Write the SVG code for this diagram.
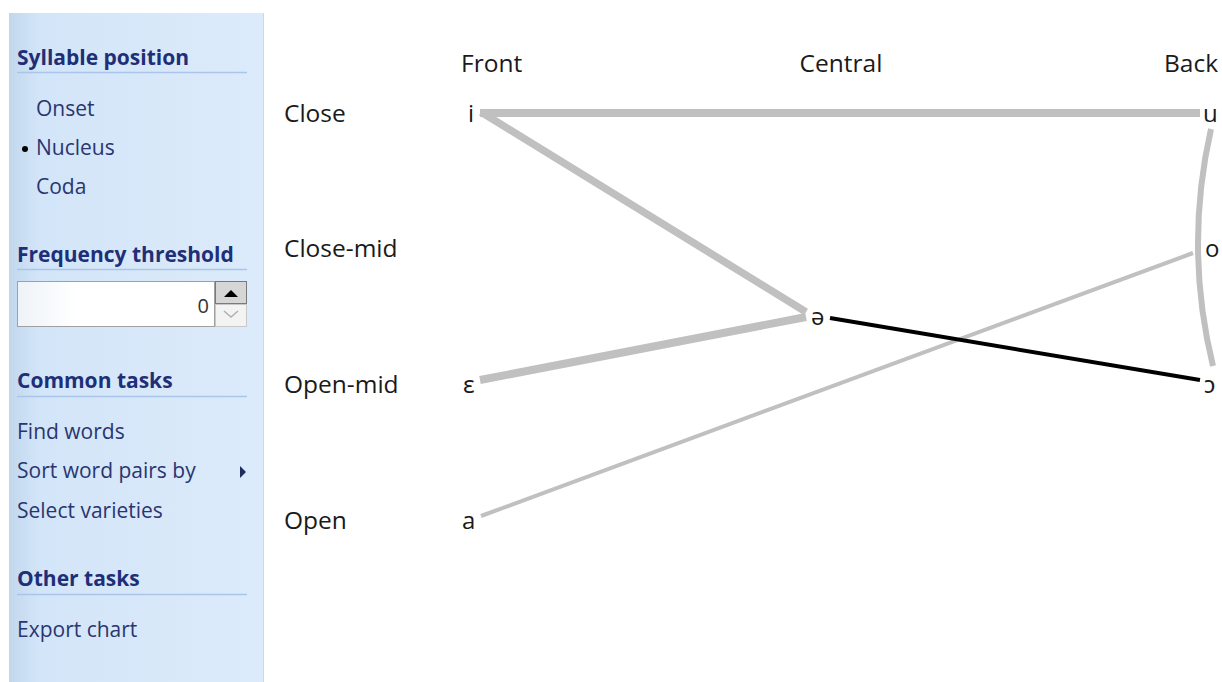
<svg xmlns="http://www.w3.org/2000/svg" width="1222" height="682" viewBox="0 0 1222 682">
<defs>
<linearGradient id="panelGrad" x1="0" y1="0" x2="1" y2="0">
<stop offset="0" stop-color="#c2d7ee"/>
<stop offset="0.12" stop-color="#d3e5f8"/>
<stop offset="1" stop-color="#dcebfb"/>
</linearGradient>
<linearGradient id="boxGrad" x1="0" y1="0" x2="1" y2="0">
<stop offset="0" stop-color="#eef3f8"/>
<stop offset="0.3" stop-color="#ffffff"/>
<stop offset="1" stop-color="#ffffff"/>
</linearGradient>
</defs>
<style>
.hdr{font-family:"Open Sans","Noto Sans",sans-serif;font-weight:bold;font-size:21px;fill:#1e2f78}
.item{font-family:"Open Sans","Noto Sans",sans-serif;font-size:21px;fill:#2a3570}
.rule{stroke:#a9c6ea;stroke-width:1.5}
.axis{font-family:"Open Sans","Noto Sans",sans-serif;font-size:24.5px;fill:#1a1a1a}
.v{font-family:"Open Sans","Noto Sans",sans-serif;font-size:24px;fill:#1a1a1a}
.g{stroke:#c0c0c0;fill:none;stroke-linecap:butt}
</style>
<rect x="0" y="0" width="1222" height="682" fill="#ffffff"/>
<g id="panel">
<rect x="9" y="13" width="254" height="669" fill="url(#panelGrad)"/>
<line x1="263.5" y1="13" x2="263.5" y2="682" stroke="#c4d9f2" stroke-width="1"/>
<text class="hdr" x="17" y="65">Syllable position</text>
<line class="rule" x1="17" y1="72.5" x2="247" y2="72.5"/>
<text class="item" x="36" y="116">Onset</text>
<circle cx="25" cy="149" r="3" fill="#000"/>
<text class="item" x="36" y="155">Nucleus</text>
<text class="item" x="36" y="194">Coda</text>
<text class="hdr" x="17" y="262">Frequency threshold</text>
<line class="rule" x1="17" y1="269.5" x2="247" y2="269.5"/>
<g id="spinner">
<rect x="17.5" y="281.5" width="197" height="45" fill="url(#boxGrad)" stroke="#a0a0a0"/>
<text x="209" y="313" text-anchor="end" font-family="Open Sans, Noto Sans, sans-serif" font-size="20" fill="#333">0</text>
<rect x="215.5" y="281.5" width="31" height="22" fill="#d6d6d6" stroke="#7a7a7a"/>
<path d="M224 297 L231 290 L238 297 Z" fill="#000"/>
<rect x="215.5" y="304.5" width="31" height="22" fill="#f3f3f3" stroke="#c8c8c8"/>
<path d="M224 311 L231 317 L238 311" fill="none" stroke="#b0b0b0" stroke-width="1.5"/>
</g>
<text class="hdr" x="17" y="388">Common tasks</text>
<line class="rule" x1="17" y1="396.5" x2="247" y2="396.5"/>
<text class="item" x="17" y="439">Find words</text>
<text class="item" x="17" y="478">Sort word pairs by</text>
<path d="M240 466 L246 472 L240 478 Z" fill="#1e2f5e"/>
<text class="item" x="17" y="518">Select varieties</text>
<text class="hdr" x="17" y="586">Other tasks</text>
<line class="rule" x1="17" y1="594.5" x2="247" y2="594.5"/>
<text class="item" x="17" y="637">Export chart</text>
</g>
<g id="axes">
<text class="axis" x="461" y="72">Front</text>
<text class="axis" x="841" y="72" text-anchor="middle">Central</text>
<text class="axis" x="1164" y="72">Back</text>
<text class="axis" x="284" y="122">Close</text>
<text class="axis" x="284" y="257">Close-mid</text>
<text class="axis" x="284" y="393">Open-mid</text>
<text class="axis" x="284" y="529">Open</text>
</g>
<g id="connectors">
<line class="g" x1="480" y1="113" x2="1200" y2="113" stroke-width="8"/>
<line class="g" x1="481" y1="112" x2="806" y2="312" stroke-width="7.5"/>
<line class="g" x1="480" y1="380" x2="806" y2="317" stroke-width="8"/>
<line class="g" x1="481" y1="516" x2="1193" y2="253" stroke-width="4"/>
<path class="g" d="M1211 129 Q1184 248 1213 366" stroke-width="6"/>
<line x1="830" y1="318" x2="1200" y2="380" stroke="#000" stroke-width="4"/>
</g>
<g id="node-i"><text class="v" x="468" y="122">i</text></g>
<g id="node-u"><text class="v" x="1203" y="122">u</text></g>
<g id="node-o"><text class="v" x="1205" y="257">o</text></g>
<g id="node-schwa"><text class="v" x="811" y="325">ə</text></g>
<g id="node-epsilon"><text class="v" x="463" y="393">ɛ</text></g>
<g id="node-openo"><text class="v" x="1204" y="393">ɔ</text></g>
<g id="node-a"><text class="v" x="462" y="529">a</text></g>
</svg>
